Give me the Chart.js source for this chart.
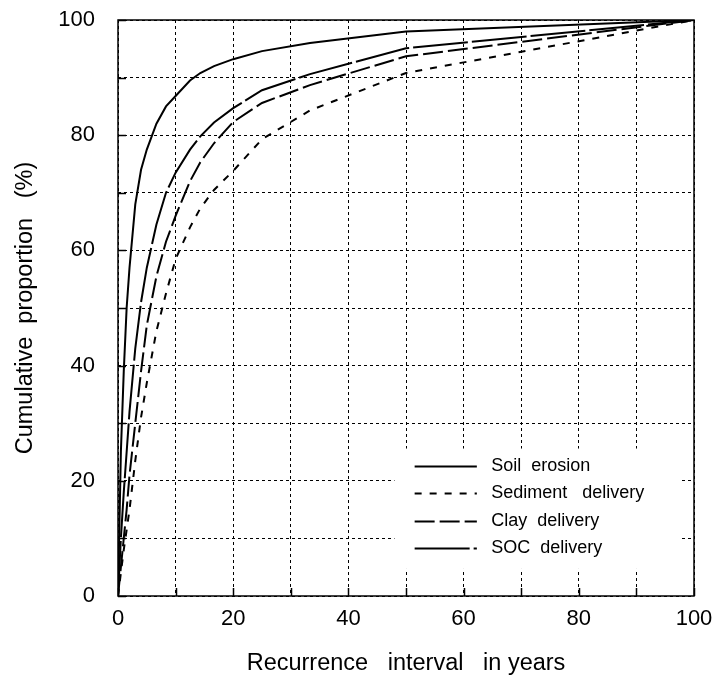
<!DOCTYPE html>
<html><head><meta charset="utf-8">
<script src="https://cdn.jsdelivr.net/npm/chart.js@4/dist/chart.umd.min.js"></script>
<style>html,body{margin:0;padding:0;background:#fff}#wrap{width:718px;height:684px}</style>
</head><body><div id="wrap"><canvas id="c" width="718" height="684"></canvas></div>
<script>
// Recurrence interval (years) at which the curves were read
const recurrenceYears = [0, 0.5, 1, 1.5, 2, 3, 4, 5, 6.67, 8.33, 10, 12.5, 14.29, 16.67, 20, 25, 33.33, 50, 100];
// Cumulative proportion (%)
const soilErosion      = [0, 25, 39, 50, 57, 68, 74, 77.5, 82, 85, 86.8, 89.5, 90.8, 92, 93.2, 94.6, 96, 98, 100];
const sedimentDelivery = [0, 4, 8, 11.5, 15, 23.5, 31, 37, 46, 52.5, 58.5, 64, 67.3, 70.5, 73.8, 79.3, 84.3, 90.8, 100];
const clayDelivery     = [0, 5, 10, 15, 21, 30, 39, 47, 55.5, 61.5, 66, 72, 75.3, 78.6, 82.3, 85.6, 88.7, 93.7, 100];
const socDelivery      = [0, 10, 18, 25, 32, 43, 51, 57, 64.5, 70, 73.5, 77.5, 79.8, 82.2, 84.7, 87.8, 90.6, 95.1, 100];
const seriesLabels = ['Soil  erosion', 'Sediment   delivery', 'Clay  delivery', 'SOC  delivery'];
const xTickLabels = [0, 20, 40, 60, 80, 100];
const yTickLabels = [0, 20, 40, 60, 80, 100];
const xTitle = 'Recurrence   interval   in years';
const yTitle = 'Cumulative  proportion   (%)';

const FONT = "'Liberation Sans', Arial, sans-serif";
const pts = ys => recurrenceYears.map((x, i) => ({x: x, y: ys[i]}));

const styles = [
  {dash: [], width: 2},
  {dash: [7, 8], width: 2},
  {dash: [20, 5], width: 2},
  {dash: [55, 4], width: 2}
];
const seriesData = [soilErosion, sedimentDelivery, clayDelivery, socDelivery];

const datasets = seriesData.map((d, i) => ({
  label: seriesLabels[i],
  data: pts(d),
  borderColor: '#000',
  backgroundColor: '#000',
  borderWidth: styles[i].width,
  borderDash: styles[i].dash,
  pointRadius: 0,
  showLine: true,
  tension: 0,
  fill: false
}));

const framePlugin = {
  id: 'frame',
  afterDatasetsDraw(chart) {
    const ctx = chart.ctx;
    const a = chart.chartArea;
    const xs = chart.scales.x, ys = chart.scales.y;
    // legend box
    ctx.save();
    const lx = xs.getPixelForValue(48), rx = xs.getPixelForValue(97.5);
    const ty = ys.getPixelForValue(25.6), by = ys.getPixelForValue(4.7);
    ctx.fillStyle = '#fff';
    ctx.fillRect(lx, ty, rx - lx, by - ty);
    const rows = [22.5, 17.8, 13.0, 8.4];
    const x0 = xs.getPixelForValue(51.5), x1 = xs.getPixelForValue(62.3), tx = xs.getPixelForValue(64.8);
    chart.data.datasets.forEach((ds, i) => {
      const y = Math.round(ys.getPixelForValue(rows[i])) + 0.5;
      ctx.strokeStyle = '#000';
      ctx.lineWidth = ds.borderWidth;
      ctx.setLineDash(ds.borderDash || []);
      ctx.beginPath(); ctx.moveTo(x0, y); ctx.lineTo(x1, y); ctx.stroke();
      ctx.setLineDash([]);
      ctx.fillStyle = '#000';
      ctx.font = '18px ' + FONT;
      ctx.textBaseline = 'middle';
      ctx.textAlign = 'left';
      ctx.fillText(ds.label, tx, y);
    });
    // inward ticks
    ctx.strokeStyle = '#000';
    ctx.lineWidth = 1.5;
    for (let v = 0; v <= 100; v += 10) {
      const py = Math.round(ys.getPixelForValue(v)) + 0.5;
      ctx.beginPath(); ctx.moveTo(a.left, py); ctx.lineTo(a.left + 8, py); ctx.stroke();
      const px = Math.round(xs.getPixelForValue(v)) + 0.5;
      ctx.beginPath(); ctx.moveTo(px, a.bottom); ctx.lineTo(px, a.bottom - 8); ctx.stroke();
    }
    // frame
    ctx.lineWidth = 1.5;
    ctx.strokeRect(a.left, a.top, a.right - a.left, a.bottom - a.top);
    ctx.restore();
  }
};

new Chart(document.getElementById('c'), {
  type: 'scatter',
  data: {datasets: datasets},
  plugins: [framePlugin],
  options: {
    responsive: false,
    animation: false,
    devicePixelRatio: 1,
    layout: {padding: {left: 0, top: 20, right: 24, bottom: 0}},
    plugins: {legend: {display: false}, tooltip: {enabled: false}},
    scales: {
      x: {
        type: 'linear', min: 0, max: 100,
        afterFit: s => { s.height = 88; },
        ticks: {
          stepSize: 10, autoSkip: false, maxRotation: 0, color: '#000', padding: 0,
          font: {family: FONT, size: 22},
          callback: v => xTickLabels.includes(v) ? String(v) : ''
        },
        grid: {color: '#000', lineWidth: 1, drawTicks: true, tickLength: 10, tickColor: 'rgba(0,0,0,0)'},
        border: {display: false, dash: [3, 3]},
        title: {display: true, text: xTitle, color: '#000', font: {family: FONT, size: 23.5}, padding: {top: 0, bottom: 6}}
      },
      y: {
        type: 'linear', min: 0, max: 100,
        afterFit: s => { s.width = 118; },
        ticks: {
          stepSize: 10, autoSkip: false, color: '#000', padding: 0,
          font: {family: FONT, size: 22},
          callback: v => yTickLabels.includes(v) ? String(v) : ''
        },
        grid: {color: '#000', lineWidth: 1, drawTicks: true, tickLength: 23, tickColor: 'rgba(0,0,0,0)'},
        border: {display: false, dash: [3, 3]},
        title: {display: true, text: yTitle, color: '#000', font: {family: FONT, size: 23.5}, padding: {top: 11, bottom: 0}}
      }
    }
  }
});
</script>
</body></html>
